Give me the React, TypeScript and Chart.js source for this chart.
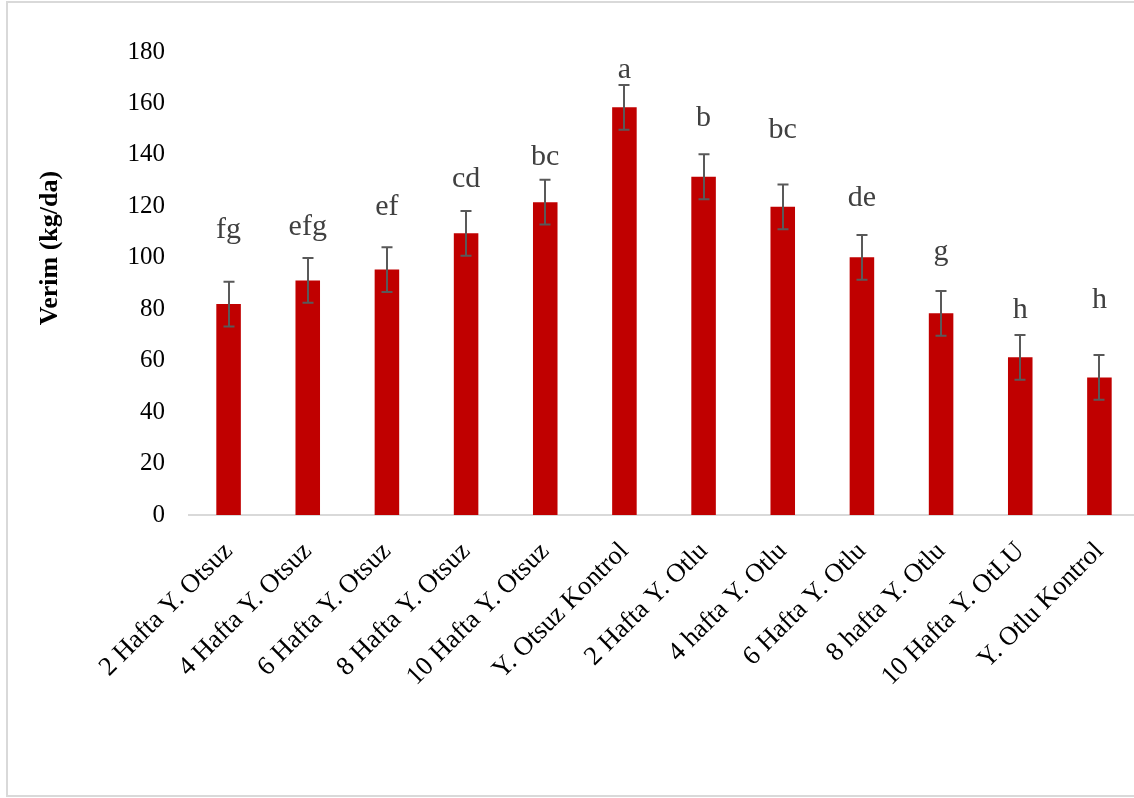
import React, { useEffect, useRef } from "react";
import { Chart, registerables } from "chart.js";

Chart.register(...registerables);

const categories = [
  "2 Hafta Y. Otsuz",
  "4 Hafta Y. Otsuz",
  "6 Hafta Y. Otsuz",
  "8 Hafta Y. Otsuz",
  "10 Hafta Y. Otsuz",
  "Y. Otsuz Kontrol",
  "2 Hafta Y. Otlu",
  "4 hafta Y. Otlu",
  "6 Hafta Y. Otlu",
  "8 hafta Y. Otlu",
  "10 Hafta Y. OtLU",
  "Y. Otlu Kontrol",
];
const yieldValues = [82.0, 91.2, 95.4, 109.5, 121.6, 158.5, 131.5, 119.8, 100.2, 78.4, 61.3, 53.5];
const errorValues = [8.7, 8.7, 8.7, 8.7, 8.7, 8.7, 8.7, 8.7, 8.7, 8.7, 8.7, 8.7];
const letters = ["fg", "efg", "ef", "cd", "bc", "a", "b", "bc", "de", "g", "h", "h"];
const letterLevels = [110.8, 112, 119.7, 130.5, 139.3, 173, 154.4, 149.7, 123.1, 102.1, 79.7, 83.6];
const yTicks = [0, 20, 40, 60, 80, 100, 120, 140, 160, 180];

const FONT = "'Liberation Serif', 'Times New Roman', serif";

const annotationsPlugin = {
  id: "annotations",
  beforeDraw(chart: any) {
    const ctx = chart.ctx;
    ctx.save();
    ctx.fillStyle = "#ffffff";
    ctx.fillRect(0, 0, chart.width, chart.height);
    ctx.strokeStyle = "#D9D9D9";
    ctx.lineWidth = 2;
    ctx.strokeRect(7, 2, chart.width + 20, 794);
    ctx.restore();
  },
  afterDatasetsDraw(chart: any) {
    const ctx = chart.ctx;
    const x = chart.scales.x;
    const y = chart.scales.y;
    ctx.save();
    // error bars
    ctx.strokeStyle = "#595959";
    ctx.lineWidth = 2;
    yieldValues.forEach((v, i) => {
      const cx = Math.round(x.getPixelForValue(i));
      const top = y.getPixelForValue(v + errorValues[i]);
      const bot = y.getPixelForValue(v - errorValues[i]);
      ctx.beginPath();
      ctx.moveTo(cx, top);
      ctx.lineTo(cx, bot);
      ctx.moveTo(cx - 5.5, top);
      ctx.lineTo(cx + 5.5, top);
      ctx.moveTo(cx - 5.5, bot);
      ctx.lineTo(cx + 5.5, bot);
      ctx.stroke();
    });
    // letters
    ctx.fillStyle = "#404040";
    ctx.font = `30px ${FONT}`;
    ctx.textAlign = "center";
    ctx.textBaseline = "middle";
    letters.forEach((t, i) => {
      const cx = x.getPixelForValue(i);
      const cy = y.getPixelForValue(letterLevels[i]);
      ctx.fillText(t, cx, cy);
    });
    // y title
    ctx.fillStyle = "#000000";
    ctx.font = `bold 26px ${FONT}`;
    ctx.translate(50, 248);
    ctx.rotate(-Math.PI / 2);
    ctx.fillText("Verim (kg/da)", 0, 0);
    ctx.restore();
  },
};

export default function App() {
  const ref = useRef<HTMLCanvasElement | null>(null);
  useEffect(() => {
    if (!ref.current) return;
    const chart = new Chart(ref.current, {
      type: "bar",
      data: {
        labels: categories,
        datasets: [
          {
            data: yieldValues,
            backgroundColor: "#C00000",
            borderWidth: 0,
            barPercentage: 0.31,
            categoryPercentage: 1,
          },
        ],
      },
      options: {
        responsive: false,
        animation: false,
        devicePixelRatio: 1,
        layout: { padding: { top: 52, left: 0, right: 11, bottom: 0 } },
        plugins: { legend: { display: false }, tooltip: { enabled: false } },
        scales: {
          x: {
            grid: { display: false, drawTicks: false },
            border: { display: true, color: "#D9D9D9", width: 2 },
            ticks: {
              color: "#000000",
              font: { family: FONT, size: 26.5 },
              minRotation: 45,
              maxRotation: 45,
              padding: 21,
              autoSkip: false,
            },
            afterFit(scale: any) {
              scale.height = 283;
            },
          },
          y: {
            min: 0,
            max: 180,
            afterBuildTicks(scale: any) {
              scale.ticks = yTicks.map((v) => ({ value: v }));
            },
            grid: { display: false, drawTicks: false },
            border: { display: false },
            ticks: {
              color: "#000000",
              font: { family: FONT, size: 25 },
              padding: 24,
            },
            afterFit(scale: any) {
              scale.width = 189;
            },
          },
        },
      },
      plugins: [annotationsPlugin],
    });
    return () => chart.destroy();
  }, []);
  return (
    <div
      style={{
        position: "fixed",
        left: 0,
        top: 0,
        width: 1134,
        height: 798,
        overflow: "hidden",
        background: "#fff",
      }}
    >
      <canvas ref={ref} width={1150} height={798} style={{ display: "block" }} />
    </div>
  );
}
